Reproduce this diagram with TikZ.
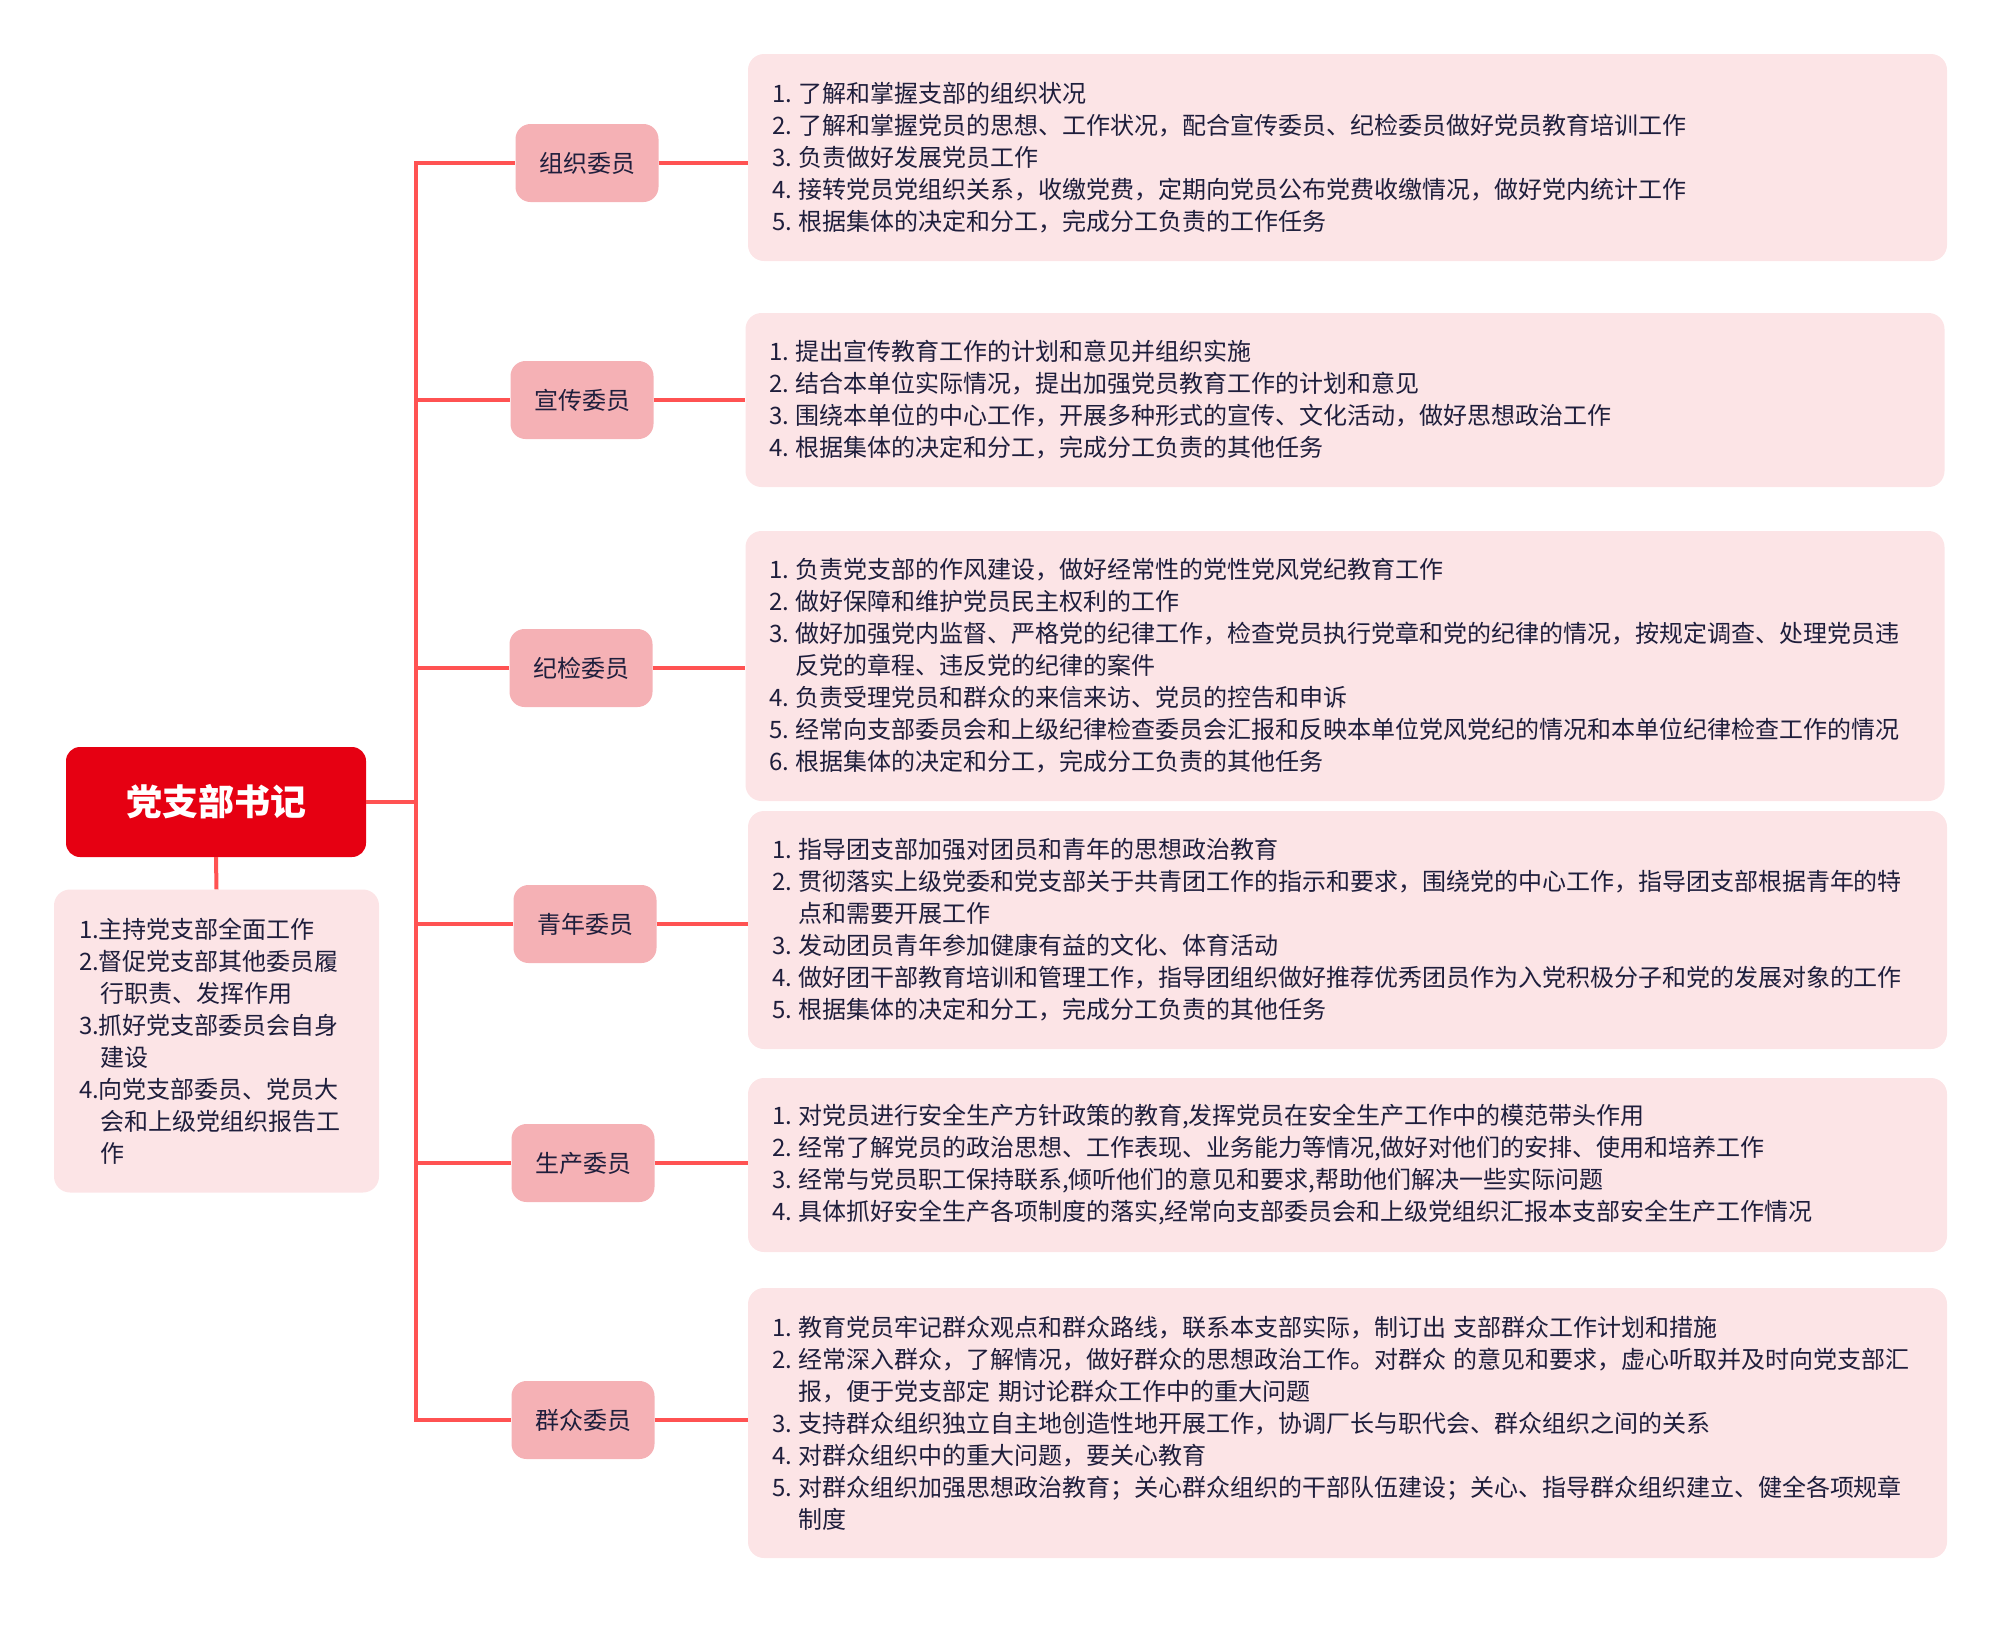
\documentclass[tikz,border=0pt]{standalone}
\usepackage{fontspec}
\setmainfont{Noto Sans CJK SC}
\usetikzlibrary{calc}
\definecolor{rootred}{HTML}{E60012}
\definecolor{midpink}{HTML}{F5B1B5}
\definecolor{detpink}{HTML}{FCE4E6}
\definecolor{linec}{HTML}{FF5252}
\definecolor{txt}{HTML}{1E1E3C}
\newcommand{\lnum}[1]{\leavevmode\makebox[26pt][l]{#1.}}
\newcommand{\hg}{\leavevmode\hspace*{26pt}}
\newcommand{\hgr}{\leavevmode\hspace*{21pt}}
\tikzset{
  conn/.style={draw=linec, line width=4pt},
  rootbox/.style={fill=rootred, rounded corners=14pt, minimum width=300pt, minimum height=110pt, text=white, font=\fontsize{36}{40}\selectfont\bfseries, inner sep=0pt},
  midbox/.style={fill=midpink, rounded corners=15pt, minimum width=143pt, minimum height=78pt, text=txt, font=\fontsize{24}{30}\selectfont, inner sep=0pt},
  detbox/.style={fill=detpink, rounded corners=16pt, align=left, text=txt, text width=1151pt, inner xsep=24pt, inner ysep=0pt, font=\fontsize{24}{32}\selectfont},
  rdbox/.style={fill=detpink, rounded corners=16pt, align=left, text=txt, text width=275pt, inner xsep=25pt, inner ysep=0pt, minimum height=303pt, font=\fontsize{24}{32}\selectfont}
}
\begin{document}
\begin{tikzpicture}[x=1pt,y=-1pt]
\useasboundingbox (0,0) rectangle (2005,1634);

\node[rootbox] (root) at (216,802) {党支部书记};
\node[rdbox] (rd) at (216.5,1041) {1.主持党支部全面工作\\
2.督促党支部其他委员履\\
\hgr 行职责、发挥作用\\
3.抓好党支部委员会自身\\
\hgr 建设\\
4.向党支部委员、党员大\\
\hgr 会和上级党组织报告工\\
\hgr 作};

\coordinate (tr) at (416,802);

\node[midbox] (m1) at (587,163) {组织委员};
\node[midbox] (m2) at (582,400) {宣传委员};
\node[midbox] (m3) at (581,668) {纪检委员};
\node[midbox] (m4) at (585,924) {青年委员};
\node[midbox] (m5) at (583,1163) {生产委员};
\node[midbox] (m6) at (583,1420) {群众委员};

\node[detbox, minimum height=207pt] (d1) at (1347.5,157.5) {\lnum{1}了解和掌握支部的组织状况\\
\lnum{2}了解和掌握党员的思想、工作状况，配合宣传委员、纪检委员做好党员教育培训工作\\
\lnum{3}负责做好发展党员工作\\
\lnum{4}接转党员党组织关系，收缴党费，定期向党员公布党费收缴情况，做好党内统计工作\\
\lnum{5}根据集体的决定和分工，完成分工负责的工作任务};

\node[detbox, minimum height=174pt] (d2) at (1345,400) {\lnum{1}提出宣传教育工作的计划和意见并组织实施\\
\lnum{2}结合本单位实际情况，提出加强党员教育工作的计划和意见\\
\lnum{3}围绕本单位的中心工作，开展多种形式的宣传、文化活动，做好思想政治工作\\
\lnum{4}根据集体的决定和分工，完成分工负责的其他任务};

\node[detbox, minimum height=270pt] (d3) at (1345,666) {\lnum{1}负责党支部的作风建设，做好经常性的党性党风党纪教育工作\\
\lnum{2}做好保障和维护党员民主权利的工作\\
\lnum{3}做好加强党内监督、严格党的纪律工作，检查党员执行党章和党的纪律的情况，按规定调查、处理党员违\\
\hg 反党的章程、违反党的纪律的案件\\
\lnum{4}负责受理党员和群众的来信来访、党员的控告和申诉\\
\lnum{5}经常向支部委员会和上级纪律检查委员会汇报和反映本单位党风党纪的情况和本单位纪律检查工作的情况\\
\lnum{6}根据集体的决定和分工，完成分工负责的其他任务};

\node[detbox, minimum height=238pt] (d4) at (1347.5,930) {\lnum{1}指导团支部加强对团员和青年的思想政治教育\\
\lnum{2}贯彻落实上级党委和党支部关于共青团工作的指示和要求，围绕党的中心工作，指导团支部根据青年的特\\
\hg 点和需要开展工作\\
\lnum{3}发动团员青年参加健康有益的文化、体育活动\\
\lnum{4}做好团干部教育培训和管理工作，指导团组织做好推荐优秀团员作为入党积极分子和党的发展对象的工作\\
\lnum{5}根据集体的决定和分工，完成分工负责的其他任务};

\node[detbox, minimum height=174pt] (d5) at (1347.5,1165) {\lnum{1}对党员进行安全生产方针政策的教育,发挥党员在安全生产工作中的模范带头作用\\
\lnum{2}经常了解党员的政治思想、工作表现、业务能力等情况,做好对他们的安排、使用和培养工作\\
\lnum{3}经常与党员职工保持联系,倾听他们的意见和要求,帮助他们解决一些实际问题\\
\lnum{4}具体抓好安全生产各项制度的落实,经常向支部委员会和上级党组织汇报本支部安全生产工作情况};

\node[detbox, minimum height=270pt] (d6) at (1347.5,1423) {\lnum{1}教育党员牢记群众观点和群众路线，联系本支部实际，制订出 支部群众工作计划和措施\\
\lnum{2}经常深入群众，了解情况，做好群众的思想政治工作。对群众 的意见和要求，虚心听取并及时向党支部汇\\
\hg 报，便于党支部定 期讨论群众工作中的重大问题\\
\lnum{3}支持群众组织独立自主地创造性地开展工作，协调厂长与职代会、群众组织之间的关系\\
\lnum{4}对群众组织中的重大问题，要关心教育\\
\lnum{5}对群众组织加强思想政治教育；关心群众组织的干部队伍建设；关心、指导群众组织建立、健全各项规章\\
\hg 制度};

% connectors
\draw[conn] (root.south) -- (rd.north);
\draw[conn] (root.east) -- (tr);
\foreach \m in {m1,m2,m3,m4,m5,m6} {
  \draw[conn] (tr) |- (\m.west);
}
\foreach \m/\d in {m1/d1,m2/d2,m3/d3,m4/d4,m5/d5,m6/d6} {
  \draw[conn] (\m.east) -- (\m.east -| \d.west);
}
\end{tikzpicture}
\end{document}
